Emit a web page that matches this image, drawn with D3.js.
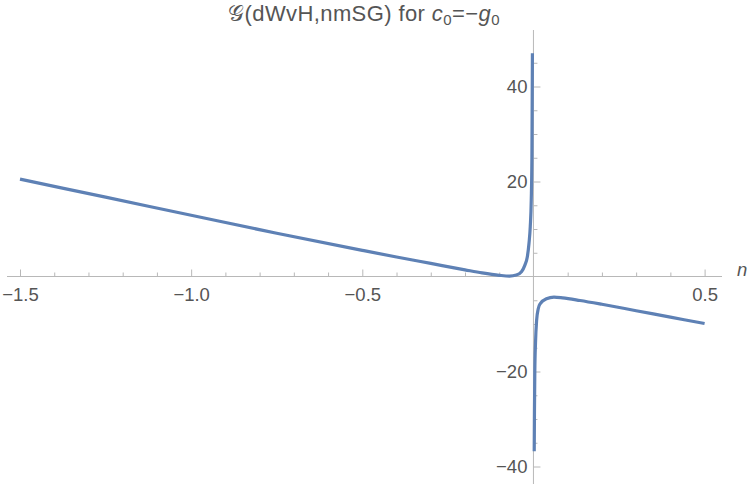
<!DOCTYPE html>
<html>
    <head>
        <meta charset="UTF-8">
        <script src="https://d3js.org/d3.v7.min.js"></script>
        <style>
            body {
                margin: 0;
                background: white;
                font-family: "Liberation Sans", Arial, Helvetica, sans-serif;
            }

            .axis path.domain {
                display: none;
            }

            .axis line {
                stroke: #b8b8b8;
                stroke-width: 1px;
            }

            .axis text {
                fill: #555;
                font-size: 18.5px;
                font-family: "Liberation Sans", Arial, sans-serif;
            }

            .axis-line {
                stroke: #b8b8b8;
                stroke-width: 1px;
            }

            .curve {
                fill: none;
                stroke: #5e81b5;
                stroke-width: 3.2px;
                stroke-linejoin: round;
            }

            .label {
                fill: #555;
                font-size: 18.5px;
            }

            .title {
                fill: #555;
                font-size: 22px;
                letter-spacing: 0.4px;
            }
        </style>
    </head>
    <body>
        <svg></svg>

        <script>
            // left branch (n < 0)
            const nLeft = [-1.5, -1.25, -1.0, -0.75, -0.5, -0.4, -0.3, -0.2, -0.15, -0.1, -0.07, -0.05,
                -0.035, -0.025, -0.018, -0.013, -0.0093, -0.0064, -0.0045, -0.003];
            const gLeft = [20.5, 16.7, 12.9, 9.1, 5.5, 4.1, 2.75, 1.4, 0.75, 0.25, 0.08, 0.3,
                1.0, 2.4, 4.1, 7.0, 10.5, 16.1, 25, 47];

            // right branch (n > 0)
            const nRight = [0.0023, 0.003, 0.004, 0.006, 0.0093, 0.014, 0.02, 0.038, 0.06, 0.085,
                0.136, 0.2, 0.3, 0.4, 0.5];
            const gRight = [-36.8, -28, -20, -14, -9.2, -6.8, -5.7, -4.7, -4.35, -4.5,
                -5.05, -5.85, -7.2, -8.55, -9.9];

            const xTicks = [-1.5, -1.0, -0.5, 0.5];
            const yTicks = [-40, -20, 20, 40];

            function drawGraph () {
                const width = 750,
                    height = 484;

                const svg = d3.select("svg")
                    .attr("width", width)
                    .attr("height", height);

                const x = d3.scaleLinear()
                    .domain([-1.5, 0.5])
                    .range([20, 704.6]);

                const y = d3.scaleLinear()
                    .domain([-40, 40])
                    .range([466.5, 86.5]);

                // minor tick positions
                const xMinor = d3.range(-15, 6).map(d => d / 10).filter(d => !xTicks.includes(d) && d !== 0);
                const yMinor = d3.range(-9, 10).map(d => d * 5).filter(d => d % 20 !== 0);

                // axis lines
                svg.append("line")
                    .attr("class", "axis-line")
                    .attr("x1", 7).attr("x2", 722)
                    .attr("y1", y(0)).attr("y2", y(0));

                svg.append("line")
                    .attr("class", "axis-line")
                    .attr("x1", x(0)).attr("x2", x(0))
                    .attr("y1", 30).attr("y2", height);

                // x axis
                svg.append("g")
                    .attr("class", "axis")
                    .attr("transform", `translate(0, ${y(0)})`)
                    .call(d3.axisBottom(x).tickValues(xMinor).tickSize(-4).tickFormat(""));

                svg.append("g")
                    .attr("class", "axis")
                    .attr("transform", `translate(0, ${y(0)})`)
                    .call(d3.axisBottom(x).tickValues(xTicks).tickSize(-7).tickPadding(11)
                        .tickFormat(d => d3.format(".1f")(d).replace("-", "\u2212")));

                // y axis
                svg.append("g")
                    .attr("class", "axis")
                    .attr("transform", `translate(${x(0)}, 0)`)
                    .call(d3.axisLeft(y).tickValues(yMinor).tickSize(-4).tickFormat(""));

                svg.append("g")
                    .attr("class", "axis")
                    .attr("transform", `translate(${x(0)}, 0)`)
                    .call(d3.axisLeft(y).tickValues(yTicks).tickSize(-7).tickPadding(6)
                        .tickFormat(d => String(d).replace("-", "\u2212")));

                // axis label
                svg.append("text")
                    .attr("class", "label")
                    .attr("x", 737)
                    .attr("y", 276)
                    .style("font-style", "italic")
                    .text("n");

                // curve, drawn as two branches
                const line = d3.line()
                    .x(d => x(d[0]))
                    .y(d => y(d[1]))
                    .curve(d3.curveMonotoneX);

                svg.append("path")
                    .attr("class", "curve")
                    .attr("d", line(d3.zip(nLeft, gLeft)));

                svg.append("path")
                    .attr("class", "curve")
                    .attr("d", line(d3.zip(nRight, gRight)));

                // title
                const title = svg.append("text")
                    .attr("class", "title")
                    .attr("x", 364)
                    .attr("y", 21)
                    .attr("text-anchor", "middle");

                title.append("tspan").text("\u{1D4A2}");
                title.append("tspan").text("(dWvH,nmSG) for ");
                title.append("tspan").style("font-style", "italic").text("c");
                title.append("tspan").attr("dy", 4).style("font-size", "15px").text("0");
                title.append("tspan").attr("dy", -4).text("=\u2212");
                title.append("tspan").style("font-style", "italic").text("g");
                title.append("tspan").attr("dy", 4).style("font-size", "15px").text("0");
            }

            drawGraph();
        </script>
    </body>
</html>
